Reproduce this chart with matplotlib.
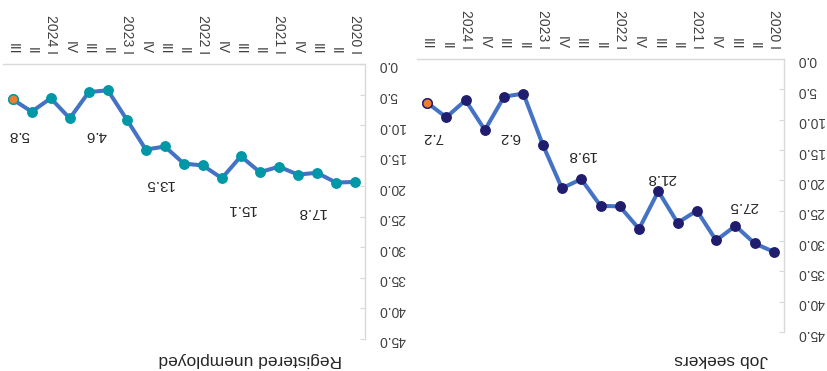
# ==========================================
# Job seekers vs registered unemployed
# (chart is shown rotated 180 degrees)
# ==========================================

import matplotlib
matplotlib.use("Agg")
import matplotlib.pyplot as plt


# ==========================================
# 1. DATA (chronological, 2020 I -> 2024 III)
# ==========================================

quarter_labels = [
    "2020 I", "II", "III", "IV",
    "2021 I", "II", "III", "IV",
    "2022 I", "II", "III", "IV",
    "2023 I", "II", "III", "IV",
    "2024 I", "II", "III"
]

job_seekers = [
    31.8, 30.4, 27.5, 29.9,
    25.0, 27.0, 21.8, 28.0,
    24.3, 24.2, 19.8, 21.3,
    14.1, 5.7, 6.2, 11.7,
    6.8, 9.6, 7.2
]

registered_unemployed = [
    19.3, 19.4, 17.8, 18.1,
    16.8, 17.7, 15.1, 18.7,
    16.6, 16.3, 13.5, 14.0,
    9.1, 4.3, 4.6, 8.9,
    5.6, 7.8, 5.8
]

# points that carry a data label (third quarters)
label_idx = [2, 6, 10, 14, 18]

y_ticks = [0, 5, 10, 15, 20, 25, 30, 35, 40, 45]


# ==========================================
# 2. STYLE
# ==========================================

plt.rcParams["font.family"] = ["Liberation Sans", "DejaVu Sans"]

LINE = "#4472C4"
ORANGE = "#ED7D31"
GRID = "#D9D9D9"
TXT = "#404040"


def draw_panel(ax, values, marker_color, title, title_x,
               lab_dx, lab_dy):

    x = list(range(len(values)))

    ax.plot(
        x, values,
        color=LINE, linewidth=2.9,
        marker="o", markersize=6.8,
        markerfacecolor=marker_color,
        markeredgecolor=marker_color,
        solid_capstyle="round", zorder=3
    )

    # last point highlighted
    ax.plot(
        x[-1], values[-1],
        marker="o", markersize=6.8,
        markerfacecolor=ORANGE,
        markeredgecolor=marker_color,
        markeredgewidth=1.0, zorder=4
    )

    for k, i in enumerate(label_idx):
        ax.text(
            i + lab_dx[k], values[i] + lab_dy[k],
            f"{values[i]:.1f}",
            rotation=180, ha="center", va="center",
            fontsize=11, color="#262626"
        )

    # rotated layout: 2020 on the right, 0 on top
    ax.set_xlim(len(values) - 0.5, -0.5)
    ax.set_ylim(45, 0)

    ax.set_yticks(y_ticks)
    ax.set_yticklabels([f"{v:.1f}" for v in y_ticks])
    ax.yaxis.tick_right()
    ax.tick_params(
        axis="y", direction="in", length=3.5,
        color=GRID, labelcolor=TXT, labelsize=10,
        labelrotation=180, pad=10
    )

    ax.set_xticks(x)
    ax.set_xticklabels(quarter_labels)
    ax.xaxis.tick_top()
    ax.tick_params(
        axis="x", length=0, labelcolor=TXT,
        labelsize=10, labelrotation=270, pad=7
    )
    for lab in ax.get_xticklabels():
        lab.set_verticalalignment("bottom")
        lab.set_horizontalalignment("center")

    for side in ["left", "bottom"]:
        ax.spines[side].set_visible(False)
    for side in ["right", "top"]:
        ax.spines[side].set_color(GRID)
        ax.spines[side].set_linewidth(1.0)

    ax.set_facecolor("white")

    fig.text(
        title_x, 0.03, title,
        rotation=180, ha="right", va="center",
        fontsize=12.5, color="#262626"
    )


# ==========================================
# 3. FIGURE
# ==========================================

W, H = 827, 371
fig = plt.figure(figsize=(W / 100, H / 100), dpi=100)

ax_reg = fig.add_axes([3.2 / W, (H - 339) / H, 361.3 / W, 275 / H])
ax_job = fig.add_axes([417.4 / W, (H - 332) / H, 366.2 / W, 273 / H])

draw_panel(
    ax_reg, registered_unemployed, "#0097A7",
    "Registered unemployed", 342 / W,
    lab_dx=[0.3, 0.0, 0.3, -0.37, -0.3],
    lab_dy=[6.5, 8.6, 6.1, 7.0, 5.8]
)

draw_panel(
    ax_job, job_seekers, "#201D6E",
    "Job seekers", 768 / W,
    lab_dx=[-0.41, -0.16, 0.0, -0.31, -0.31],
    lab_dy=[-3.3, -2.2, -3.9, 6.7, 5.7]
)

fig.savefig("out.png", dpi=100, facecolor="white")
